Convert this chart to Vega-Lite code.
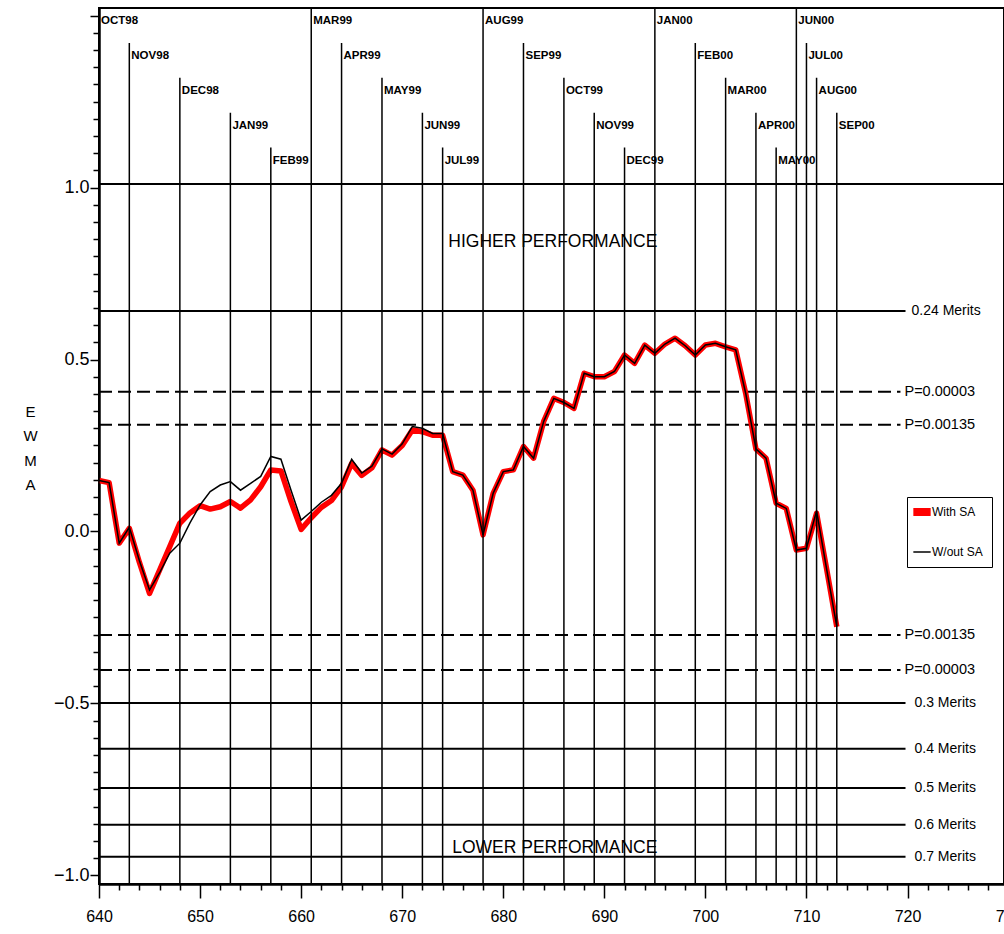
{
  "$schema": "https://vega.github.io/schema/vega-lite/v6.json",
  "width": 905,
  "height": 876,
  "autosize": {"type": "none"},
  "padding": {"left": 99, "top": 8, "right": 0, "bottom": 50},
  "background": "white",
  "config": {
    "view": {"stroke": "black", "strokeWidth": 2},
    "axis": {"domainColor": "black", "tickColor": "black", "labelColor": "black", "grid": false, "labelOverlap": false}
  },
  "datasets": {
    "ewma": [
      {"x":640,"series":"With SA","ewma":0.148},{"x":641,"series":"With SA","ewma":0.142},{"x":642,"series":"With SA","ewma":-0.034},{"x":643,"series":"With SA","ewma":0.009},{"x":644,"series":"With SA","ewma":-0.09},{"x":645,"series":"With SA","ewma":-0.18},{"x":646,"series":"With SA","ewma":-0.112},{"x":647,"series":"With SA","ewma":-0.044},{"x":648,"series":"With SA","ewma":0.024},{"x":649,"series":"With SA","ewma":0.054},
      {"x":650,"series":"With SA","ewma":0.075},{"x":651,"series":"With SA","ewma":0.065},{"x":652,"series":"With SA","ewma":0.072},{"x":653,"series":"With SA","ewma":0.087},{"x":654,"series":"With SA","ewma":0.068},{"x":655,"series":"With SA","ewma":0.092},{"x":656,"series":"With SA","ewma":0.13},{"x":657,"series":"With SA","ewma":0.179},{"x":658,"series":"With SA","ewma":0.176},{"x":659,"series":"With SA","ewma":0.087},
      {"x":660,"series":"With SA","ewma":0.006},{"x":661,"series":"With SA","ewma":0.04},{"x":662,"series":"With SA","ewma":0.07},{"x":663,"series":"With SA","ewma":0.09},{"x":664,"series":"With SA","ewma":0.13},{"x":665,"series":"With SA","ewma":0.198},{"x":666,"series":"With SA","ewma":0.163},{"x":667,"series":"With SA","ewma":0.185},{"x":668,"series":"With SA","ewma":0.237},{"x":669,"series":"With SA","ewma":0.222},
      {"x":670,"series":"With SA","ewma":0.25},{"x":671,"series":"With SA","ewma":0.295},{"x":672,"series":"With SA","ewma":0.29},{"x":673,"series":"With SA","ewma":0.28},{"x":674,"series":"With SA","ewma":0.28},{"x":675,"series":"With SA","ewma":0.174},{"x":676,"series":"With SA","ewma":0.164},{"x":677,"series":"With SA","ewma":0.12},{"x":678,"series":"With SA","ewma":-0.01},{"x":679,"series":"With SA","ewma":0.111},
      {"x":680,"series":"With SA","ewma":0.174},{"x":681,"series":"With SA","ewma":0.179},{"x":682,"series":"With SA","ewma":0.247},{"x":683,"series":"With SA","ewma":0.213},{"x":684,"series":"With SA","ewma":0.32},{"x":685,"series":"With SA","ewma":0.387},{"x":686,"series":"With SA","ewma":0.375},{"x":687,"series":"With SA","ewma":0.358},{"x":688,"series":"With SA","ewma":0.46},{"x":689,"series":"With SA","ewma":0.45},
      {"x":690,"series":"With SA","ewma":0.45},{"x":691,"series":"With SA","ewma":0.465},{"x":692,"series":"With SA","ewma":0.513},{"x":693,"series":"With SA","ewma":0.489},{"x":694,"series":"With SA","ewma":0.542},{"x":695,"series":"With SA","ewma":0.518},{"x":696,"series":"With SA","ewma":0.545},{"x":697,"series":"With SA","ewma":0.562},{"x":698,"series":"With SA","ewma":0.54},{"x":699,"series":"With SA","ewma":0.513},
      {"x":700,"series":"With SA","ewma":0.542},{"x":701,"series":"With SA","ewma":0.547},{"x":702,"series":"With SA","ewma":0.537},{"x":703,"series":"With SA","ewma":0.528},{"x":704,"series":"With SA","ewma":0.4},{"x":705,"series":"With SA","ewma":0.24},{"x":706,"series":"With SA","ewma":0.213},{"x":707,"series":"With SA","ewma":0.082},{"x":708,"series":"With SA","ewma":0.067},{"x":709,"series":"With SA","ewma":-0.054},
      {"x":710,"series":"With SA","ewma":-0.049},{"x":711,"series":"With SA","ewma":0.053},{"x":712,"series":"With SA","ewma":-0.11},{"x":713,"series":"With SA","ewma":-0.277},
      {"x":640,"series":"W/out SA","ewma":0.148},{"x":641,"series":"W/out SA","ewma":0.142},{"x":642,"series":"W/out SA","ewma":-0.034},{"x":643,"series":"W/out SA","ewma":0.012},{"x":644,"series":"W/out SA","ewma":-0.085},{"x":645,"series":"W/out SA","ewma":-0.17},{"x":646,"series":"W/out SA","ewma":-0.12},{"x":647,"series":"W/out SA","ewma":-0.063},{"x":648,"series":"W/out SA","ewma":-0.034},{"x":649,"series":"W/out SA","ewma":0.025},
      {"x":650,"series":"W/out SA","ewma":0.077},{"x":651,"series":"W/out SA","ewma":0.116},{"x":652,"series":"W/out SA","ewma":0.135},{"x":653,"series":"W/out SA","ewma":0.145},{"x":654,"series":"W/out SA","ewma":0.12},{"x":655,"series":"W/out SA","ewma":0.14},{"x":656,"series":"W/out SA","ewma":0.16},{"x":657,"series":"W/out SA","ewma":0.218},{"x":658,"series":"W/out SA","ewma":0.21},{"x":659,"series":"W/out SA","ewma":0.12},
      {"x":660,"series":"W/out SA","ewma":0.033},{"x":661,"series":"W/out SA","ewma":0.058},{"x":662,"series":"W/out SA","ewma":0.085},{"x":663,"series":"W/out SA","ewma":0.105},{"x":664,"series":"W/out SA","ewma":0.14},{"x":665,"series":"W/out SA","ewma":0.21},{"x":666,"series":"W/out SA","ewma":0.17},{"x":667,"series":"W/out SA","ewma":0.19},{"x":668,"series":"W/out SA","ewma":0.24},{"x":669,"series":"W/out SA","ewma":0.225},
      {"x":670,"series":"W/out SA","ewma":0.255},{"x":671,"series":"W/out SA","ewma":0.305},{"x":672,"series":"W/out SA","ewma":0.3},{"x":673,"series":"W/out SA","ewma":0.285},{"x":674,"series":"W/out SA","ewma":0.285},{"x":675,"series":"W/out SA","ewma":0.174},{"x":676,"series":"W/out SA","ewma":0.164},{"x":677,"series":"W/out SA","ewma":0.12},{"x":678,"series":"W/out SA","ewma":-0.01},{"x":679,"series":"W/out SA","ewma":0.111},
      {"x":680,"series":"W/out SA","ewma":0.174},{"x":681,"series":"W/out SA","ewma":0.179},{"x":682,"series":"W/out SA","ewma":0.247},{"x":683,"series":"W/out SA","ewma":0.213},{"x":684,"series":"W/out SA","ewma":0.32},{"x":685,"series":"W/out SA","ewma":0.387},{"x":686,"series":"W/out SA","ewma":0.375},{"x":687,"series":"W/out SA","ewma":0.358},{"x":688,"series":"W/out SA","ewma":0.46},{"x":689,"series":"W/out SA","ewma":0.45},
      {"x":690,"series":"W/out SA","ewma":0.45},{"x":691,"series":"W/out SA","ewma":0.465},{"x":692,"series":"W/out SA","ewma":0.513},{"x":693,"series":"W/out SA","ewma":0.489},{"x":694,"series":"W/out SA","ewma":0.542},{"x":695,"series":"W/out SA","ewma":0.518},{"x":696,"series":"W/out SA","ewma":0.545},{"x":697,"series":"W/out SA","ewma":0.562},{"x":698,"series":"W/out SA","ewma":0.54},{"x":699,"series":"W/out SA","ewma":0.513},
      {"x":700,"series":"W/out SA","ewma":0.542},{"x":701,"series":"W/out SA","ewma":0.547},{"x":702,"series":"W/out SA","ewma":0.537},{"x":703,"series":"W/out SA","ewma":0.528},{"x":704,"series":"W/out SA","ewma":0.4},{"x":705,"series":"W/out SA","ewma":0.24},{"x":706,"series":"W/out SA","ewma":0.213},{"x":707,"series":"W/out SA","ewma":0.082},{"x":708,"series":"W/out SA","ewma":0.067},{"x":709,"series":"W/out SA","ewma":-0.054},
      {"x":710,"series":"W/out SA","ewma":-0.049},{"x":711,"series":"W/out SA","ewma":0.06},{"x":712,"series":"W/out SA","ewma":-0.11},{"x":713,"series":"W/out SA","ewma":-0.277}
    ],
    "limits": [
      {"value":1.01,"label":"","kind":"top"},
      {"value":0.641,"label":"0.24 Merits","kind":"upper"},
      {"value":0.406,"label":"P=0.00003","kind":"p"},
      {"value":0.31,"label":"P=0.00135","kind":"p"},
      {"value":-0.301,"label":"P=0.00135","kind":"p"},
      {"value":-0.403,"label":"P=0.00003","kind":"p"},
      {"value":-0.499,"label":"0.3 Merits","kind":"lower"},
      {"value":-0.632,"label":"0.4 Merits","kind":"lower"},
      {"value":-0.746,"label":"0.5 Merits","kind":"lower"},
      {"value":-0.853,"label":"0.6 Merits","kind":"lower"},
      {"value":-0.946,"label":"0.7 Merits","kind":"lower"}
    ],
    "months": [
      {"month":"OCT98","x":640,"level":0},{"month":"NOV98","x":643,"level":1},{"month":"DEC98","x":648,"level":2},{"month":"JAN99","x":653,"level":3},{"month":"FEB99","x":657,"level":4},
      {"month":"MAR99","x":661,"level":0},{"month":"APR99","x":664,"level":1},{"month":"MAY99","x":668,"level":2},{"month":"JUN99","x":672,"level":3},{"month":"JUL99","x":674,"level":4},
      {"month":"AUG99","x":678,"level":0},{"month":"SEP99","x":682,"level":1},{"month":"OCT99","x":686,"level":2},{"month":"NOV99","x":689,"level":3},{"month":"DEC99","x":692,"level":4},
      {"month":"JAN00","x":695,"level":0},{"month":"FEB00","x":699,"level":1},{"month":"MAR00","x":702,"level":2},{"month":"APR00","x":705,"level":3},{"month":"MAY00","x":707,"level":4},
      {"month":"JUN00","x":709,"level":0},{"month":"JUL00","x":710,"level":1},{"month":"AUG00","x":711,"level":2},{"month":"SEP00","x":713,"level":3}
    ]
  },
  "resolve": {"scale": {"y": "independent"}, "axis": {"y": "independent"}},
  "layer": [
    {
      "layer": [
        {
          "data": {"name": "ewma"},
          "transform": [{"filter": "datum.series === 'With SA'"}],
          "mark": {"type": "line", "strokeWidth": 5, "opacity": 0},
          "encoding": {
            "x": {"field": "x", "type": "quantitative",
              "scale": {"domain": [640, 730], "range": [0, 909.6], "nice": false, "zero": false},
              "axis": {
                "title": null,
                "values": [640,642,644,646,648,650,652,654,656,658,660,662,664,666,668,670,672,674,676,678,680,682,684,686,688,690,692,694,696,698,700,702,704,706,708,710,712,714,716,718,720,722,724,726,728,730],
                "tickCount": 500,
                "format": "d",
                "labelExpr": "datum.value % 10 === 0 ? datum.label : ''",
                "tickSize": {"condition": {"test": "datum.value % 10 === 0", "value": 14}, "value": 6},
                "tickWidth": 1.5,
                "domainWidth": 2.5,
                "labelFont": "Liberation Sans",
                "labelFontSize": 16,
                "labelPadding": 10,
                "labelFlush": false,
                "labelBound": false,
                "labelOverlap": false
              }
            },
            "y": {"field": "ewma", "type": "quantitative",
              "scale": {"domain": [-1.025, 1.522], "nice": false, "zero": false},
              "axis": {
                "orient": "left",
                "title": ["E", "W", "M", "A"],
                "titleAngle": 0,
                "titleAlign": "center",
                "titleBaseline": "top",
                "titleX": -69,
                "titleY": 396,
                "titleLineHeight": 24.5,
                "titleFont": "Liberation Sans",
                "titleFontSize": 15,
                "titleFontWeight": "normal",
                "values": [-1.0,-0.95,-0.9,-0.85,-0.8,-0.75,-0.7,-0.65,-0.6,-0.55,-0.5,-0.45,-0.4,-0.35,-0.3,-0.25,-0.2,-0.15,-0.1,-0.05,0,0.05,0.1,0.15,0.2,0.25,0.3,0.35,0.4,0.45,0.5,0.55,0.6,0.65,0.7,0.75,0.8,0.85,0.9,0.95,1.0,1.05,1.1,1.15,1.2,1.25,1.3,1.35,1.4,1.45,1.5],
                "tickCount": 500,
                "format": ".1f",
                "labelExpr": "(abs(datum.value*2 - round(datum.value*2)) < 0.001 && datum.value < 1.01) ? datum.label : ''",
                "tickSize": {"condition": {"test": "abs(datum.value*2 - round(datum.value*2)) < 0.001", "value": 9}, "value": 6},
                "tickWidth": 1.5,
                "domainWidth": 2.5,
                "labelFont": "Liberation Sans",
                "labelFontSize": 18,
                "labelPadding": 1,
                "labelFlush": false,
                "labelOverlap": false
              }
            }
          }
        },
        {
          "data": {"name": "limits"},
          "transform": [{"filter": "datum.kind === 'upper' || datum.kind === 'lower'"}],
          "mark": {"type": "rule", "color": "black", "strokeWidth": 2},
          "encoding": {
            "x": {"datum": 640, "type": "quantitative"},
            "x2": {"datum": 719.8},
            "y": {"field": "value", "type": "quantitative"}
          }
        },
        {
          "data": {"name": "limits"},
          "transform": [{"filter": "datum.kind === 'top'"}],
          "mark": {"type": "rule", "color": "black", "strokeWidth": 2},
          "encoding": {
            "x": {"datum": 640, "type": "quantitative"},
            "x2": {"datum": 730},
            "y": {"field": "value", "type": "quantitative"}
          }
        },
        {
          "data": {"name": "limits"},
          "transform": [{"filter": "datum.kind === 'p'"}],
          "mark": {"type": "rule", "color": "black", "strokeWidth": 2, "strokeDash": [13, 6]},
          "encoding": {
            "x": {"datum": 640, "type": "quantitative"},
            "x2": {"datum": 719.3},
            "y": {"field": "value", "type": "quantitative"}
          }
        },
        {
          "data": {"name": "limits"},
          "transform": [{"filter": "datum.kind === 'upper'"}],
          "mark": {"type": "text", "align": "left", "baseline": "middle", "dx": 6, "font": "Liberation Sans", "fontSize": 14, "color": "black"},
          "encoding": {
            "x": {"datum": 719.8, "type": "quantitative"},
            "y": {"field": "value", "type": "quantitative"},
            "text": {"field": "label"}
          }
        },
        {
          "data": {"name": "limits"},
          "transform": [{"filter": "datum.kind === 'p'"}],
          "mark": {"type": "text", "align": "left", "baseline": "middle", "dx": 4, "font": "Liberation Sans", "fontSize": 14.5, "color": "black"},
          "encoding": {
            "x": {"datum": 719.3, "type": "quantitative"},
            "y": {"field": "value", "type": "quantitative"},
            "text": {"field": "label"}
          }
        },
        {
          "data": {"name": "limits"},
          "transform": [{"filter": "datum.kind === 'lower'"}],
          "mark": {"type": "text", "align": "left", "baseline": "middle", "dx": 9, "font": "Liberation Sans", "fontSize": 14, "color": "black"},
          "encoding": {
            "x": {"datum": 719.8, "type": "quantitative"},
            "y": {"field": "value", "type": "quantitative"},
            "text": {"field": "label"}
          }
        },
        {
          "data": {"values": [{}]},
          "mark": {"type": "text", "text": "HIGHER PERFORMANCE", "align": "center", "baseline": "middle", "font": "Liberation Sans", "fontSize": 17.5, "color": "black"},
          "encoding": {
            "x": {"datum": 684.9, "type": "quantitative"},
            "y": {"datum": 0.842, "type": "quantitative"}
          }
        },
        {
          "data": {"values": [{}]},
          "mark": {"type": "text", "text": "LOWER PERFORMANCE", "align": "center", "baseline": "middle", "font": "Liberation Sans", "fontSize": 17.5, "color": "black"},
          "encoding": {
            "x": {"datum": 685.1, "type": "quantitative"},
            "y": {"datum": -0.92, "type": "quantitative"}
          }
        },
        {
          "data": {"name": "ewma"},
          "transform": [{"filter": "datum.series === 'With SA'"}],
          "mark": {"type": "line", "strokeWidth": 5.5, "strokeJoin": "round"},
          "encoding": {
            "x": {"field": "x", "type": "quantitative"},
            "y": {"field": "ewma", "type": "quantitative"},
            "color": {"field": "series", "type": "nominal",
              "scale": {"domain": ["With SA", "W/out SA"], "range": ["#ff0000", "#000000"]},
              "legend": {
                "orient": "none", "legendX": 808, "legendY": 489, "title": null,
                "strokeColor": "black", "fillColor": "white", "padding": 9,
                "symbolType": "stroke", "symbolSize": 300, "symbolStrokeWidth": 2,
                "labelFont": "Liberation Sans", "labelFontSize": 12, "labelColor": "black",
                "rowPadding": 18,
                "encode": {
                  "symbols": {"update": {"strokeWidth": {"signal": "datum.value === 'With SA' ? 8 : 1.5"}}},
                  "labels": {"update": {"text": {"signal": "datum.label + '\u00a0\u00a0\u00a0\u00a0\u00a0\u00a0\u00a0\u00a0\u00a0\u00a0'"}}}
                }
              }
            }
          }
        }
      ]
    },
    {
      "data": {"name": "months"},
      "layer": [
        {
          "mark": {"type": "rule", "color": "black", "strokeWidth": 1.5},
          "encoding": {
            "x": {"field": "x", "type": "quantitative"},
            "y": {"field": "level", "type": "quantitative", "scale": {"domain": [0, 25.1], "reverse": true, "nice": false, "zero": false}, "axis": null},
            "y2": {"datum": 25.1}
          }
        },
        {
          "mark": {"type": "text", "align": "left", "baseline": "top", "dx": 2, "dy": 7, "font": "Liberation Sans", "fontWeight": "bold", "fontSize": 11.5, "color": "black"},
          "encoding": {
            "x": {"field": "x", "type": "quantitative"},
            "y": {"field": "level", "type": "quantitative"},
            "text": {"field": "month"}
          }
        }
      ]
    },
    {
      "data": {"name": "ewma"},
      "transform": [{"filter": "datum.series === 'W/out SA'"}],
      "mark": {"type": "line", "strokeWidth": 1.5},
      "encoding": {
        "x": {"field": "x", "type": "quantitative"},
        "y": {"field": "ewma", "type": "quantitative", "scale": {"domain": [-1.025, 1.522], "nice": false, "zero": false}, "axis": null},
        "color": {"field": "series", "type": "nominal",
          "scale": {"domain": ["With SA", "W/out SA"], "range": ["#ff0000", "#000000"]},
          "legend": {
            "orient": "none", "legendX": 808, "legendY": 489, "title": null,
            "strokeColor": "black", "fillColor": "white", "padding": 9,
            "symbolType": "stroke", "symbolSize": 300, "symbolStrokeWidth": 2,
            "labelFont": "Liberation Sans", "labelFontSize": 12, "labelColor": "black",
            "rowPadding": 18,
            "encode": {
              "symbols": {"update": {"strokeWidth": {"signal": "datum.value === 'With SA' ? 8 : 1.5"}}},
              "labels": {"update": {"text": {"signal": "datum.label + '\u00a0\u00a0\u00a0\u00a0\u00a0\u00a0\u00a0\u00a0\u00a0\u00a0'"}}}
            }
          }
        }
      }
    }
  ]
}
